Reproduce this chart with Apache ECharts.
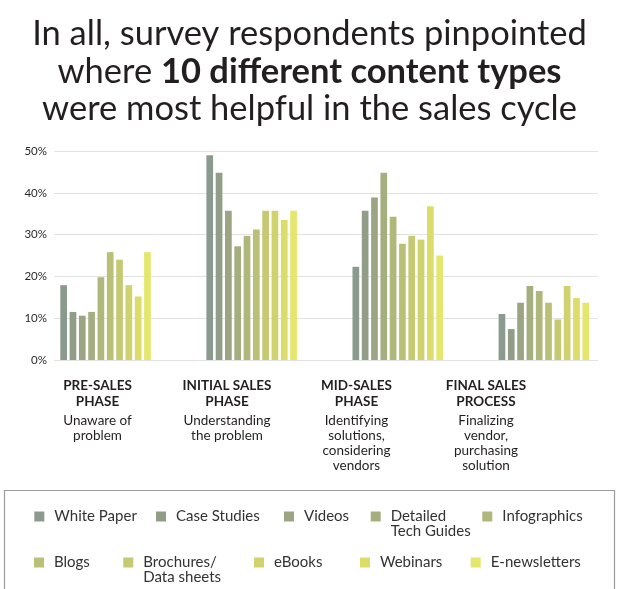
<!DOCTYPE html>
<html>
<head>
<meta charset="utf-8">
<script src="https://cdn.jsdelivr.net/npm/echarts@6/dist/echarts.min.js"></script>
<style>
html,body{margin:0;padding:0;background:#fff;}
#chart{width:619px;height:589px;}
</style>
</head>
<body>
<div id="chart"></div>
<script>
// ---- data ----
const phases = ["PRE-SALES\nPHASE", "INITIAL SALES\nPHASE", "MID-SALES\nPHASE", "FINAL SALES\nPROCESS"];
const phaseNotes = ["Unaware of\nproblem", "Understanding\nthe problem", "Identifying\nsolutions,\nconsidering\nvendors", "Finalizing\nvendor,\npurchasing\nsolution"];
const contentTypes = ["White Paper", "Case Studies", "Videos", "Detailed Tech Guides", "Infographics",
                      "Blogs", "Brochures/ Data sheets", "eBooks", "Webinars", "E-newsletters"];
const legendLabels = ["White Paper", "Case Studies", "Videos", "Detailed\nTech Guides", "Infographics",
                      "Blogs", "Brochures/\nData sheets", "eBooks", "Webinars", "E-newsletters"];
const whitePaper   = [17.9, 49.0, 22.3, 11.0];
const caseStudies  = [11.5, 44.8, 35.7, 7.4];
const videos       = [10.6, 35.7, 38.9, 13.7];
const techGuides   = [11.5, 27.2, 44.8, 17.7];
const infographics = [19.8, 29.7, 34.3, 16.5];
const blogs        = [25.8, 31.2, 27.8, 13.7];
const brochures    = [24.0, 35.7, 29.7, 9.7];
const ebooks       = [17.9, 35.7, 28.8, 17.7];
const webinars     = [15.2, 33.5, 36.8, 14.8];
const newsletters  = [25.8, 35.7, 25.0, 13.7];
const seriesValues = [whitePaper, caseStudies, videos, techGuides, infographics,
                      blogs, brochures, ebooks, webinars, newsletters];
const yTicks = [0, 10, 20, 30, 40, 50];
const colors = ["#8b9a8f", "#919d87", "#9ba583", "#a5ae7f", "#afb77b",
                "#bac076", "#c5c972", "#d0d26e", "#dbdc6a", "#e5e66c"];

// ---- layout ----
const FONT = "Lato, 'Noto Sans', sans-serif";
const legendPos = [[34.3, 511.5], [156, 511.5], [284, 511.5], [370.7, 511.5], [482.3, 511.5],
                   [34, 557.5], [123.3, 557.5], [254, 557.5], [360, 557.5], [470.7, 557.5]];

const chart = echarts.init(document.getElementById('chart'), null, {renderer: 'canvas'});

const legends = contentTypes.map((name, i) => {
  const multi = legendLabels[i].indexOf('\n') >= 0;
  return {
    data: [name],
    left: legendPos[i][0],
    top: legendPos[i][1] - (multi ? 17.5 : 2.5),
    padding: 0,
    orient: 'horizontal',
    icon: 'rect',
    itemWidth: 10,
    itemHeight: 10,
    selectedMode: false,
    // multi-line labels get a blank first line so that the first real line sits beside the swatch
    formatter: () => (multi ? ' \n' : '') + legendLabels[i],
    textStyle: {
      fontFamily: FONT, fontSize: 15, color: '#333', lineHeight: 15,
      padding: [0, 0, 0, 5]
    }
  };
});

const option = {
  backgroundColor: '#fff',
  animation: false,
  title: {
    left: 'center',
    top: 15.5,
    padding: 0,
    text: '{n|In all, survey respondents pinpointed}\n{n|where }{b|10 different content types}\n{n|were most helpful in the sales cycle}',
    textStyle: {
      fontFamily: FONT,
      fontWeight: 'normal',
      fontSize: 34.5,
      rich: {
        n: {fontFamily: FONT, fontSize: 34.5, fontWeight: 'normal', color: '#231f20', lineHeight: 37.5},
        b: {fontFamily: FONT, fontSize: 34.5, fontWeight: 'bold', color: '#231f20', lineHeight: 37.5}
      }
    }
  },
  legend: legends,
  graphic: [{
    type: 'rect',
    shape: {x: 4.5, y: 490.5, width: 610, height: 130},
    style: {fill: 'none', stroke: '#9c9c9c', lineWidth: 1.2},
    silent: true
  }],
  grid: [
    {left: 54, right: 21, top: 151, height: 209},
    {left: 32.5, width: 584.4, top: 151, height: 209},
    {left: 32.75, width: 518, top: 151, height: 209}
  ],
  xAxis: [
    {gridIndex: 0, type: 'value', show: false, min: 0, max: 1},
    {gridIndex: 1, type: 'category', data: phases, show: false},
    {gridIndex: 2, type: 'category', data: phases,
     axisLine: {show: false}, axisTick: {show: false},
     axisLabel: {
       margin: 17,
       interval: 0,
       formatter: (v, idx) => {
         const b = v.split('\n').map(s => '{b|' + s + '}').join('\n');
         const n = phaseNotes[idx].split('\n').map(s => '{n|' + s + '}').join('\n');
         return b + '\n{s| }\n' + n;
       },
       rich: {
         b: {fontFamily: FONT, fontSize: 13.5, fontWeight: 'bold', color: '#231f20', lineHeight: 16.5, align: 'center'},
         s: {fontSize: 1, lineHeight: 3.5},
         n: {fontFamily: FONT, fontSize: 13.5, color: '#231f20', lineHeight: 14.8, align: 'center'}
       }
     }}
  ],
  yAxis: [
    {gridIndex: 0, type: 'value', min: yTicks[0], max: yTicks[yTicks.length - 1], interval: 10,
     axisLine: {show: false}, axisTick: {show: false},
     axisLabel: {formatter: '{value}%', fontFamily: FONT, fontSize: 11.5, color: '#2a2a2a', margin: 7},
     splitLine: {lineStyle: {color: '#e2e2e2', width: 1}}},
    {gridIndex: 1, type: 'value', min: 0, max: 50, show: false},
    {gridIndex: 2, type: 'value', min: 0, max: 50, show: false}
  ],
  series: contentTypes.map((name, i) => ({
    name: name,
    type: 'bar',
    xAxisIndex: 1,
    yAxisIndex: 1,
    barWidth: 6.7,
    barGap: '39%',
    itemStyle: {color: colors[i]},
    data: seriesValues[i]
  }))
};
chart.setOption(option);
</script>
</body>
</html>
